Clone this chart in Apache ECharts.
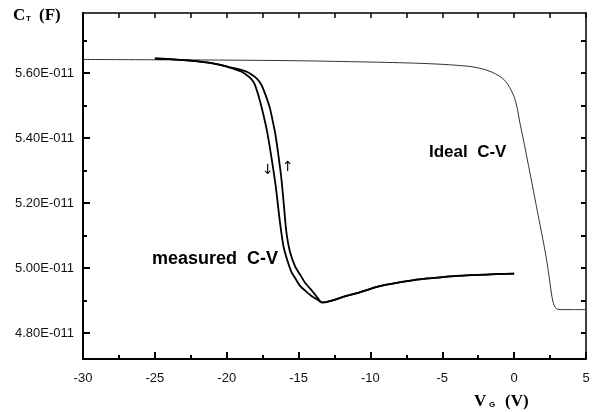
<!DOCTYPE html>
<html>
<head>
<meta charset="utf-8">
<script src="https://cdn.jsdelivr.net/npm/echarts@6/dist/echarts.min.js"></script>
<style>
  html, body { margin: 0; padding: 0; background: #fff; }
  #main { width: 595px; height: 412px; }
</style>
</head>
<body>
<div id="main"></div>
<script>
// capacitance values in units of 1E-11 F, gate voltage in V
var yMajor = [4.8, 5.0, 5.2, 5.4, 5.6];
var yMinor = [4.9, 5.1, 5.3, 5.5, 5.7];

var idealCV = [
  [-30, 5.642], [-25, 5.641], [-20, 5.640], [-15, 5.638], [-10, 5.634],
  [-8, 5.632], [-6.5, 5.630], [-5, 5.627], [-4, 5.624], [-3, 5.620],
  [-2.3, 5.614], [-1.6, 5.604], [-1.0, 5.590], [-0.6, 5.575], [-0.3, 5.555],
  [0, 5.527], [0.2, 5.495], [0.4, 5.447], [0.65, 5.394], [0.9, 5.338],
  [1.1, 5.293], [1.35, 5.236], [1.55, 5.19], [1.8, 5.133], [2.0, 5.088],
  [2.2, 5.040], [2.38, 4.990], [2.5, 4.952], [2.6, 4.920], [2.7, 4.897],
  [2.8, 4.883], [2.95, 4.875], [3.2, 4.872], [4, 4.872], [5, 4.872]
];

// sweep going down (left branch)
var measuredDown = [
  [-25, 5.645], [-24, 5.643], [-23, 5.640], [-22, 5.636], [-21, 5.630],
  [-20.5, 5.625], [-20, 5.620], [-19.5, 5.613], [-19, 5.605], [-18.7, 5.597],
  [-18.4, 5.587], [-18.1, 5.570], [-17.8, 5.532], [-17.5, 5.482], [-17.2, 5.422],
  [-16.9, 5.344], [-16.6, 5.255], [-16.3, 5.143], [-16.05, 5.067], [-15.8, 5.026],
  [-15.5, 4.988], [-15.2, 4.966], [-14.9, 4.945], [-14.5, 4.929], [-14.1, 4.914],
  [-13.7, 4.903], [-13.4, 4.894], [-13.1, 4.895], [-12.5, 4.902], [-12, 4.910],
  [-11, 4.922], [-10, 4.936], [-9, 4.948], [-8, 4.956], [-7, 4.963],
  [-6, 4.968], [-5, 4.972], [-4, 4.976], [-3, 4.978], [-2, 4.980],
  [-1, 4.982], [0, 4.983]
];

// sweep going up (right branch)
var measuredUp = [
  [-25, 5.645], [-24, 5.643], [-23, 5.640], [-22, 5.636], [-21, 5.631],
  [-20.5, 5.626], [-20, 5.621], [-19.5, 5.615], [-19, 5.610], [-18.6, 5.604],
  [-18.25, 5.595], [-17.9, 5.583], [-17.6, 5.565], [-17.3, 5.533], [-17.0, 5.493],
  [-16.8, 5.453], [-16.6, 5.408], [-16.4, 5.346], [-16.2, 5.277], [-16.0, 5.183],
  [-15.85, 5.111], [-15.6, 5.050], [-15.25, 5.006], [-14.9, 4.980], [-14.55, 4.955],
  [-14.2, 4.937], [-13.86, 4.919], [-13.6, 4.904], [-13.4, 4.894], [-13.1, 4.895],
  [-12.5, 4.902], [-12, 4.910], [-11, 4.922], [-10, 4.936], [-9, 4.948],
  [-8, 4.956], [-7, 4.963], [-6, 4.968], [-5, 4.972], [-4, 4.976],
  [-3, 4.978], [-2, 4.980], [-1, 4.982], [0, 4.983]
];

var chart = echarts.init(document.getElementById('main'));

var lineSty = { color: '#000', width: 2 };
var fontSans = 'Liberation Sans, Arial, sans-serif';
var fontSerif = 'Liberation Serif, Times New Roman, serif';

var option = {
  animation: false,
  backgroundColor: '#fff',
  grid: { left: 83, right: 9, top: 13, bottom: 53 },
  xAxis: [
    {
      type: 'value', min: -30, max: 5, interval: 5, position: 'bottom',
      axisLine: { show: true, onZero: false, lineStyle: lineSty },
      axisTick: { show: true, inside: true, length: 7, lineStyle: { color: '#000', width: 2 } },
      minorTick: { show: true, splitNumber: 2, length: 4, lineStyle: { color: '#000', width: 2 } },
      axisLabel: { color: '#111', fontSize: 13, fontFamily: fontSans, margin: 13 },
      splitLine: { show: false }
    },
    {
      type: 'value', min: -30, max: 5, interval: 2.5, position: 'top',
      axisLine: { show: true, onZero: false, lineStyle: { color: '#000', width: 1.5 } },
      axisTick: { show: true, inside: true, length: 5, lineStyle: { color: '#000', width: 1.5 } },
      axisLabel: { show: false },
      splitLine: { show: false }
    }
  ],
  yAxis: [
    {
      type: 'value', min: 4.72, max: 5.785, position: 'left',
      axisLine: { show: true, onZero: false, lineStyle: lineSty },
      axisTick: { show: true, inside: true, length: 7, customValues: yMajor, lineStyle: { color: '#000', width: 2 } },
      axisLabel: {
        customValues: yMajor, color: '#111', fontSize: 13, fontFamily: fontSans, margin: 9,
        formatter: function (v) { return v.toFixed(2) + 'E-011'; }
      },
      splitLine: { show: false }
    },
    {
      type: 'value', min: 4.72, max: 5.785, position: 'left',
      axisLine: { show: false, onZero: false },
      axisTick: { show: true, inside: true, length: 4, customValues: yMinor, lineStyle: { color: '#000', width: 2 } },
      axisLabel: { show: false },
      splitLine: { show: false }
    },
    {
      type: 'value', min: 4.72, max: 5.785, position: 'right',
      axisLine: { show: true, onZero: false, lineStyle: { color: '#000', width: 1.5 } },
      axisTick: { show: true, inside: true, length: 5, customValues: yMajor.concat(yMinor), lineStyle: { color: '#000', width: 2 } },
      axisLabel: { show: false },
      splitLine: { show: false }
    }
  ],
  series: [
    {
      name: 'ideal C-V', type: 'line', data: idealCV, showSymbol: false,
      smooth: 0.3, lineStyle: { color: '#333', width: 1 }
    },
    {
      name: 'measured down', type: 'line', data: measuredDown, showSymbol: false,
      smooth: 0.3, lineStyle: { color: '#000', width: 1.8 }
    },
    {
      name: 'measured up', type: 'line', data: measuredUp, showSymbol: false,
      smooth: 0.3, lineStyle: { color: '#000', width: 1.8 }
    }
  ],
  graphic: [
    { type: 'text', left: 13, top: 7, style: { text: 'C', font: 'bold 17px ' + fontSerif, fill: '#000' } },
    { type: 'text', left: 26, top: 15, style: { text: 'T', font: 'bold 8px ' + fontSans, fill: '#000' } },
    { type: 'text', left: 39, top: 7, style: { text: '(F)', font: 'bold 17px ' + fontSerif, fill: '#000' } },
    { type: 'text', left: 474, top: 393, style: { text: 'V', font: 'bold 17px ' + fontSerif, fill: '#000' } },
    { type: 'text', left: 489, top: 401, style: { text: 'G', font: 'bold 8px ' + fontSans, fill: '#000' } },
    { type: 'text', left: 505, top: 393, style: { text: '(V)', font: 'bold 17px ' + fontSerif, fill: '#000' } },
    { type: 'text', left: 152, top: 250, style: { text: 'measured  C-V', font: 'bold 18px ' + fontSans, fill: '#000' } },
    { type: 'text', left: 429, top: 144, style: { text: 'Ideal  C-V', font: 'bold 17px ' + fontSans, fill: '#000' } },
    { type: 'text', left: 262, top: 163, style: { text: '↓', font: '14px DejaVu Sans', fill: '#000' } },
    { type: 'text', left: 282, top: 160, style: { text: '↑', font: '14px DejaVu Sans', fill: '#000' } }
  ]
};

chart.setOption(option);
window.addEventListener('resize', function () { chart.resize(); });
</script>
</body>
</html>
